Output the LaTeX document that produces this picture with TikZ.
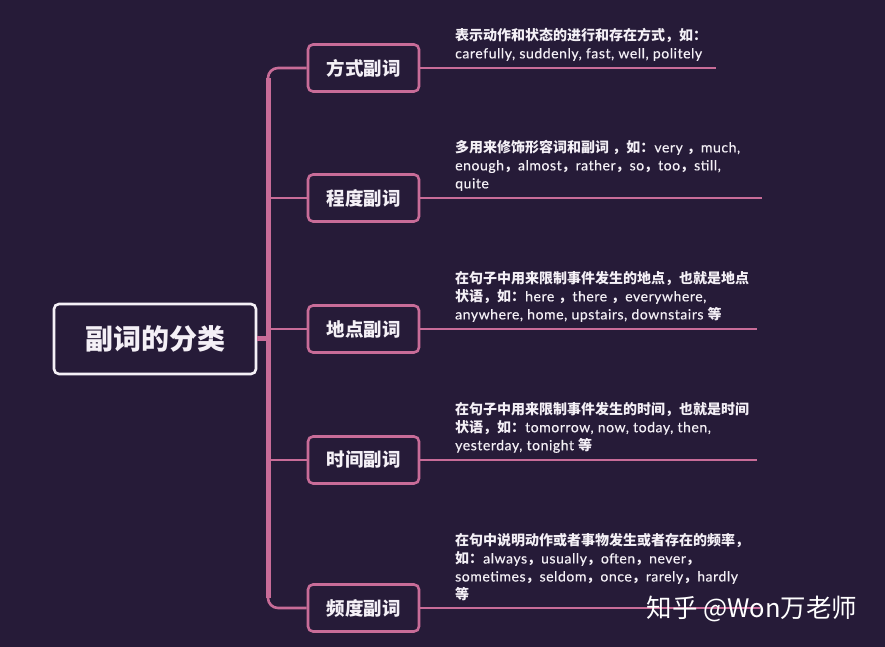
\documentclass[tikz,border=0pt]{standalone}
\usepackage{fontspec}
\usepackage{xcolor}
\usepackage{tikz}
\usetikzlibrary{positioning}
\setmainfont{Lato}[LetterSpace=4, FakeBold=0.4]
\newfontfamily\cjk{Noto Sans CJK SC}
\newcommand\zh[1]{{\fontsize{14}{18}\selectfont\cjk\bfseries #1}}
\definecolor{bgpurple}{HTML}{261B38}
\definecolor{mindpink}{HTML}{C86C98}
\definecolor{paper}{HTML}{F4F0F6}

\tikzset{
  rootbox/.style={draw=paper, line width=2.6pt, fill=bgpurple, rounded corners=5pt,
    minimum width=202pt, minimum height=70pt, text=paper,
    font=\fontsize{28}{32}\selectfont\cjk\bfseries},
  kindbox/.style={draw=mindpink, line width=2.6pt, fill=bgpurple, rounded corners=5pt,
    minimum width=111pt, minimum height=47pt, text=paper,
    font=\fontsize{18.5}{21}\selectfont\cjk\bfseries},
  trunk/.style={draw=mindpink, line width=5pt},
  branch/.style={draw=mindpink, line width=2.6pt},
  note/.style={anchor=south west, inner sep=0pt, align=left, text=paper,
    font=\fontsize{14}{18}\selectfont},
}

\begin{document}
\begin{tikzpicture}[x=1pt,y=1pt]
\fill[bgpurple] (0,0) rectangle (885,647);
\useasboundingbox (0,0) rectangle (885,647);

\node[rootbox] (root) at (155,308) {副词的分类};

\node[kindbox] (fangshi) at (363.5,579) {方式副词};
\node[kindbox] (chengdu) at (363.5,449) {程度副词};
\node[kindbox] (didian) at (363.5,318) {地点副词};
\node[kindbox] (shijian) at (363.5,187) {时间副词};
\node[kindbox] (pindu) at (363.5,39) {频度副词};

% trunk and branches
\coordinate (trunktop) at (268,579);
\coordinate (trunkbot) at (268,39);
\draw[trunk] (268,569) -- (268,49);
\draw[branch, rounded corners=10pt] (fangshi.west) -- (trunktop) -- (268,560);
\draw[branch, rounded corners=10pt] (pindu.west) -- (trunkbot) -- (268,58);
\draw[branch] (chengdu.west) -- (chengdu.west -| trunktop);
\draw[branch] (didian.west) -- (didian.west -| trunktop);
\draw[branch] (shijian.west) -- (shijian.west -| trunktop);
\draw[trunk] (root.east) -- (root.east -| trunktop);

% underlines
\coordinate (fangshiend) at (716,579);
\coordinate (chengduend) at (762,449);
\coordinate (didianend) at (757,318);
\coordinate (shijianend) at (757,187);
\coordinate (pinduend) at (760,39);
\draw[branch] (fangshi.east) -- (fangshiend);
\draw[branch] (chengdu.east) -- (chengduend);
\draw[branch] (didian.east) -- (didianend);
\draw[branch] (shijian.east) -- (shijianend);
\draw[branch] (pindu.east) -- (pinduend);

% notes
\node[note] (fangshinote) at (455,586) {\zh{表示动作和状态的进行和存在方式，如：}\\
  carefully, suddenly, fast, well, politely};
\node[note] (chengdunote) at (455,456) {\zh{多用来修饰形容词和副词 ，如：}very \zh{，}much,\\
  enough\zh{，}almost\zh{，}rather\zh{，}so\zh{，}too\zh{，}still,\\
  quite};
\node[note] (didiannote) at (455,325) {\zh{在句子中用来限制事件发生的地点，也就是地点}\\
  \zh{状语，如：}here \zh{，}there \zh{，}everywhere,\\
  anywhere, home, upstairs, downstairs \zh{等}};
\node[note] (shijiannote) at (455,194) {\zh{在句子中用来限制事件发生的时间，也就是时间}\\
  \zh{状语，如：}tomorrow, now, today, then,\\
  yesterday, tonight \zh{等}};
\node[note] (pindunote) at (455,46) {\zh{在句中说明动作或者事物发生或者存在的频率，}\\
  \zh{如：}always\zh{，}usually\zh{，}often\zh{，}never\zh{，}\\
  sometimes\zh{，}seldom\zh{，}once\zh{，}rarely\zh{，}hardly\\
  \zh{等}};

\node[anchor=east, text=white, font=\fontsize{25.5}{28}\selectfont\cjk] (mark) at (861,38) {知乎 @Won万老师};
\end{tikzpicture}
\end{document}
